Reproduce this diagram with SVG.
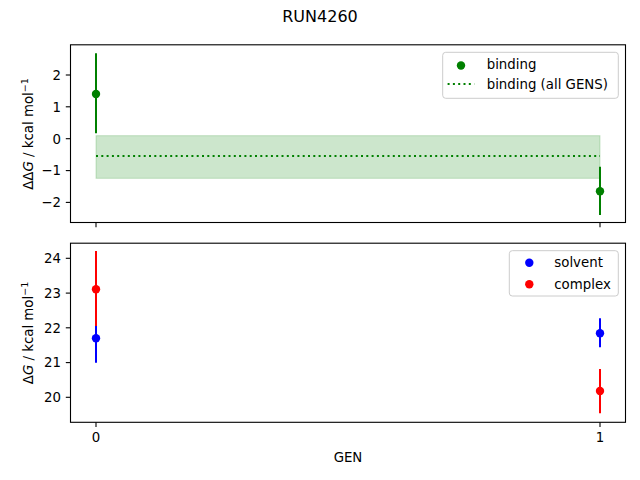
<svg xmlns="http://www.w3.org/2000/svg" width="640" height="480" viewBox="0 0 640 480">
<style>
text{font-family:"DejaVu Sans","Liberation Sans",sans-serif;font-size:13.33px;fill:#000}
.tl{text-anchor:end}
.tc{text-anchor:middle}
.frame{fill:none;stroke:#000;stroke-width:1.1}
.tick{stroke:#000;stroke-width:1.1}
.eg{stroke:#008000;stroke-width:2}
.eb{stroke:#0000ff;stroke-width:2}
.er{stroke:#ff0000;stroke-width:2}
.leg{fill:#fff;fill-opacity:0.8;stroke:#cccccc;stroke-width:1}
</style>
<rect width="640" height="480" fill="#fff"/>
<text x="320" y="22" class="tc" style="font-size:16px">RUN4260</text>

<g id="top-axes">
<rect x="96" y="135.7" width="504" height="42.6" fill="#008000" fill-opacity="0.2" stroke="#008000" stroke-opacity="0.2"/>
<line x1="96" y1="156" x2="600" y2="156" stroke="#008000" stroke-width="2" stroke-dasharray="2,3.3"/>
<line class="eg" x1="96" y1="53.3" x2="96" y2="133.3"/>
<circle cx="96" cy="94" r="4.2" fill="#008000"/>
<line class="eg" x1="600" y1="166.7" x2="600" y2="215"/>
<circle cx="600" cy="191.3" r="4.2" fill="#008000"/>
<rect class="frame" x="70.5" y="44.8" width="555" height="177.7"/>
<g class="tick">
<line x1="65.8" y1="75" x2="70.5" y2="75"/>
<line x1="65.8" y1="106.8" x2="70.5" y2="106.8"/>
<line x1="65.8" y1="138.7" x2="70.5" y2="138.7"/>
<line x1="65.8" y1="170.6" x2="70.5" y2="170.6"/>
<line x1="65.8" y1="202.4" x2="70.5" y2="202.4"/>
<line x1="96" y1="222.5" x2="96" y2="227.2"/>
<line x1="600" y1="222.5" x2="600" y2="227.2"/>
</g>
<text x="61" y="79.8" class="tl">2</text>
<text x="61" y="111.6" class="tl">1</text>
<text x="61" y="143.5" class="tl">0</text>
<text x="61" y="175.4" class="tl">−1</text>
<text x="61" y="207.2" class="tl">−2</text>
<text transform="translate(33,134) rotate(-90)" class="tc">ΔΔ<tspan font-style="italic">G</tspan> / kcal mol<tspan baseline-shift="super" style="font-size:9.5px">−1</tspan></text>
<g id="legend-top">
<rect class="leg" x="442.7" y="52.3" width="175.6" height="46" rx="3"/>
<circle cx="461" cy="65.5" r="4.2" fill="#008000"/>
<text x="486.7" y="69.3">binding</text>
<line x1="447.6" y1="84" x2="474.3" y2="84" stroke="#008000" stroke-width="2" stroke-dasharray="2,3.3"/>
<text x="486.7" y="88.7">binding (all GENS)</text>
</g>
</g>

<g id="bottom-axes">
<line class="er" x1="96" y1="251" x2="96" y2="326"/>
<line class="eb" x1="96" y1="326" x2="96" y2="362.7"/>
<circle cx="96" cy="289.3" r="4.2" fill="#ff0000"/>
<circle cx="96" cy="338.3" r="4.2" fill="#0000ff"/>
<line class="eb" x1="600" y1="318.3" x2="600" y2="347.3"/>
<circle cx="600" cy="333.3" r="4.2" fill="#0000ff"/>
<line class="er" x1="600" y1="369" x2="600" y2="413.3"/>
<circle cx="600" cy="391" r="4.2" fill="#ff0000"/>
<rect class="frame" x="70.5" y="243.2" width="555" height="179.1"/>
<g class="tick">
<line x1="65.8" y1="258.3" x2="70.5" y2="258.3"/>
<line x1="65.8" y1="293.1" x2="70.5" y2="293.1"/>
<line x1="65.8" y1="327.8" x2="70.5" y2="327.8"/>
<line x1="65.8" y1="362.6" x2="70.5" y2="362.6"/>
<line x1="65.8" y1="397.3" x2="70.5" y2="397.3"/>
<line x1="96" y1="422.3" x2="96" y2="427"/>
<line x1="600" y1="422.3" x2="600" y2="427"/>
</g>
<text x="61" y="263.1" class="tl">24</text>
<text x="61" y="297.9" class="tl">23</text>
<text x="61" y="332.6" class="tl">22</text>
<text x="61" y="367.4" class="tl">21</text>
<text x="61" y="402.1" class="tl">20</text>
<text x="96" y="441.7" class="tc">0</text>
<text x="600" y="441.7" class="tc">1</text>
<text x="348" y="461.5" class="tc">GEN</text>
<text transform="translate(33,333) rotate(-90)" class="tc">Δ<tspan font-style="italic">G</tspan> / kcal mol<tspan baseline-shift="super" style="font-size:9.5px">−1</tspan></text>
<g id="legend-bottom">
<rect class="leg" x="509.3" y="250.7" width="109" height="45.3" rx="3"/>
<circle cx="529.3" cy="262.7" r="4.2" fill="#0000ff"/>
<text x="554.3" y="267.3">solvent</text>
<circle cx="529.3" cy="284.3" r="4.2" fill="#ff0000"/>
<text x="554.3" y="288.9">complex</text>
</g>
</g>
</svg>
